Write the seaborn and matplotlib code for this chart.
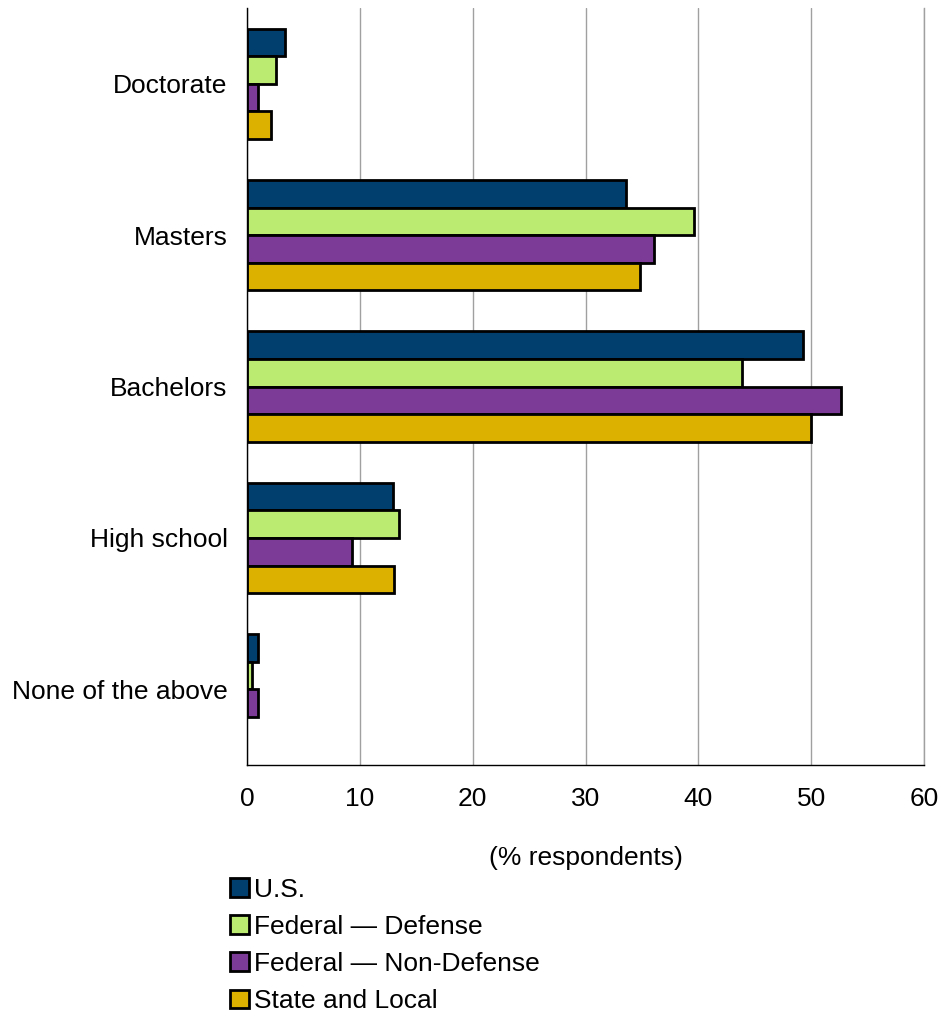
import matplotlib
matplotlib.use("Agg")
import matplotlib.pyplot as plt
import seaborn as sns
import pandas as pd
import numpy as np
from matplotlib.patches import Patch

categories = ["Doctorate", "Masters", "Bachelors", "High school", "None of the above"]
series = ["U.S.", "Federal \u2014 Defense", "Federal \u2014 Non-Defense", "State and Local"]
us = [3.4, 33.6, 49.3, 12.9, 1.0]
defense = [2.6, 39.6, 43.9, 13.5, 0.4]
non_defense = [1.0, 36.1, 52.6, 9.3, 1.0]
state_local = [2.1, 34.8, 50.0, 13.0, 0.0]
colors = ["#003F6E", "#BCEB72", "#7B3B96", "#DDB100"]
x_ticks = [0, 10, 20, 30, 40, 50, 60]

rows = []
for name, vals in zip(series, [us, defense, non_defense, state_local]):
    for cat, v in zip(categories, vals):
        rows.append({"category": cat, "series": name, "value": v})
df = pd.DataFrame(rows)

sns.set_style("white")
plt.rcParams["font.family"] = ["Liberation Sans", "DejaVu Sans"]
plt.rcParams["text.color"] = "black"
plt.rcParams["xtick.color"] = "black"
plt.rcParams["ytick.color"] = "black"
plt.rcParams["axes.labelcolor"] = "black"

FS = 19

fig = plt.figure(figsize=(9.43, 10.14), dpi=100)
ax = fig.add_axes([0.262, 0.2456, 0.718, 0.7464])

sns.barplot(data=df, y="category", x="value", hue="series", order=categories,
            hue_order=series, palette=colors, saturation=1, orient="h", width=0.73,
            edgecolor="black", linewidth=2, ax=ax, legend=False)

# zero-valued bars draw nothing
for p in ax.patches:
    if p.get_width() == 0:
        p.set_visible(False)

ax.set_xlim(0, 60)
ax.set_ylim(4.5, -0.5)
ax.set_xticks(x_ticks)
ax.set_xticklabels([str(t) for t in x_ticks], fontsize=FS)
ax.tick_params(axis="x", direction="out", length=6, width=1, pad=10)
ax.tick_params(axis="y", which="major", length=0, pad=14, labelsize=FS)
ax.set_yticks(np.arange(-0.5, 5.0, 1.0), minor=True)
ax.tick_params(axis="y", which="minor", direction="out", length=7, width=1)
ax.xaxis.grid(True, color="#A0A0A0", linewidth=1)
ax.set_axisbelow(True)
ax.spines["top"].set_visible(False)
ax.spines["right"].set_color("#A0A0A0")
ax.spines["right"].set_linewidth(1)
for s in ["left", "bottom"]:
    ax.spines[s].set_color("black")
    ax.spines[s].set_linewidth(1)
ax.set_ylabel("")
ax.set_xlabel("(% respondents)", fontsize=FS, labelpad=25)

handles = [Patch(facecolor=c, edgecolor="black", linewidth=2) for c in colors]
fig.legend(handles, series, loc="upper left", bbox_to_anchor=(0.233, 0.145),
           frameon=False, fontsize=FS, handlelength=0.7, handleheight=0.7,
           handletextpad=0.2, labelspacing=0.5, borderaxespad=0)

fig.savefig("out.png", dpi=100)
